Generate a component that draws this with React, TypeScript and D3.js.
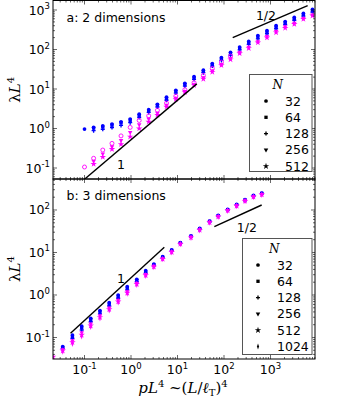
import { useEffect, useRef } from 'react';
import * as d3 from 'd3';

// panel a: 2 dimensions
const xA = [0.1, 0.157, 0.247, 0.39, 0.61, 0.96, 1.5, 2.4, 3.7, 5.8, 9.2, 14.4, 22.7, 36, 56, 88, 138, 217, 340, 535, 840, 1320, 2070, 3250, 5100, 8000];
const yA32 = [0.97, 1.07, 1.16, 1.3, 1.48, 1.73, 2.3, 3.0, 4.1, 6.2, 9.3, 13.9, 20.5, 30, 44, 62, 85, 115, 160, 225, 300, 400, 510, 650, 820, 1030];
const yA64 = [null, 1.02, 1.1, 1.22, 1.4, 1.62, 2.15, 2.85, 3.9, 5.8, 8.7, 13, 19, 28, 41, 57, 78, 105, 148, 205, 275, 370, 470, 600, 760, 950];
const yA128 = [null, 0.88, 0.96, 1.06, 1.2, 1.41, 1.9, 2.55, 3.5, 5.2, 7.9, 11.8, 17.5, 26, 38, 53, 72, 98, 135, 185, 250, 335, 430, 550, 700, 880];
const yAopen = [0.106, 0.176, 0.285, 0.42, 0.65, 1.07, 1.6, 2.1, 2.9, 4.4, 6.6, 9.6, 14.5, 22, 33, 48, 68, null, null, null, null, null, null, null, null, null];
const yA256 = [null, 0.15, 0.23, 0.35, 0.5, 0.8, 1.25, 1.75, 2.45, 3.9, 5.9, 8.8, 13, 19.5, 29, 42, 60, 85, 115, 160, 215, 290, 380, 470, 620, 760];
const yA512 = [null, 0.126, 0.19, 0.3, 0.4, 0.62, 1.0, 1.48, 2.2, 3.55, 5.5, 8.3, 12.5, 18, 27, 40, 56, 80, 108, 150, 200, 270, 350, 440, 590, 720];

// panel b: 3 dimensions
const xB = [0.021, 0.034, 0.055, 0.087, 0.136, 0.215, 0.34, 0.53, 0.83, 1.33, 2.07, 3.1, 4.8, 7.5, 11.5, 19.5, 30, 49, 75, 120, 187, 283, 430, 650];
const yB32 = [null, 0.061, 0.114, 0.186, 0.283, 0.43, 0.66, 1.0, 1.57, 2.34, 3.73, 5.35, 7.96, 11.5, 17, 24.5, 37, 55, 75, 103, 135, 175, 220, 250];
const yB64 = [null, 0.058, 0.105, 0.17, 0.26, 0.4, 0.61, 0.93, 1.45, 2.2, 3.5, 5.15, 7.7, 11.2, 16.7, 24, 36.2, 54, 73.6, 101.5, 132.5, 172, 216, 245];
const yB128 = [null, 0.055, 0.095, 0.15, 0.235, 0.36, 0.55, 0.84, 1.32, 2.05, 3.25, 4.95, 7.45, 10.9, 16.4, 23.5, 35.4, 53, 72.2, 100, 130, 169, 212, 240];
const yB256 = [null, 0.052, 0.085, 0.13, 0.21, 0.33, 0.5, 0.76, 1.2, 1.92, 3.05, 4.8, 7.2, 10.5, 16.1, 23, 34.6, 52, 70.8, 98.5, 127.5, 166, 208, 235];
const yB512 = [0.035, 0.049, 0.077, 0.115, 0.19, 0.3, 0.46, 0.7, 1.12, 1.8, 2.9, 4.6, 7.0, 10.2, 15.8, 22.5, 33.8, 51, 69.4, 97, 125, 163, 204, 230];
const yB1024 = [0.032, 0.046, 0.07, 0.105, 0.175, 0.28, 0.43, 0.66, 1.06, 1.72, 2.8, 4.5, 6.9, 10.0, 15.5, 22, 33, 50, 68, 95, 122, 160, 200, 225];

// guide lines (slope 1 and slope 1/2)
const guideA1 = { x: [0.1, 26], y: [0.052, 13.5] };
const guideAHalf = { x: [154, 6300], y: [200, 1290] };
const guideB1 = { x: [0.05, 5.2], y: [0.126, 13.3] };
const guideBHalf = { x: [62, 646], y: [40.5, 131] };

const legendA = ['32', '64', '128', '256', '512'];
const legendB = ['32', '64', '128', '256', '512', '1024'];

const BLUE = '#0000ff';
const MAGENTA = '#ff00ff';

const shapes: Record<string, any> = {
  circle: d3.symbolCircle,
  square: d3.symbolSquare,
  plus: d3.symbolCross,
  tri: d3.symbolTriangle,
  star: d3.symbolStar,
  diamond: d3.symbolDiamond,
};
const sizes: Record<string, number> = { circle: 11, square: 11, plus: 9, tri: 9, star: 13, diamond: 10, ring: 0 };

function drawMarker(g: any, shape: string, color: string, cx: number, cy: number) {
  if (shape === 'ring') {
    g.append('circle').attr('cx', cx).attr('cy', cy).attr('r', 2)
      .attr('fill', 'none').attr('stroke', color).attr('stroke-width', 0.9);
    return;
  }
  let tr = `translate(${cx},${cy})`;
  if (shape === 'tri') tr += ' rotate(180)';
  if (shape === 'diamond') tr += ' scale(0.6,1)';
  g.append('path')
    .attr('d', d3.symbol(shapes[shape], sizes[shape])())
    .attr('transform', tr)
    .attr('fill', color);
}

export default function App() {
  const ref = useRef<SVGSVGElement>(null);

  useEffect(() => {
    const width = 346;
    const height = 398;
    const svg = d3.select(ref.current);
    svg.selectAll('*').remove();
    svg.attr('width', width).attr('height', height).attr('viewBox', `0 0 ${width} ${height}`);
    svg.append('rect').attr('width', width).attr('height', height).attr('fill', '#fff');

    const left = 53;
    const right = 315;
    const x = d3.scaleLog().domain([0.021, 9060]).range([left, right]);
    const tickFont = 12.5;

    const panels = [
      {
        id: 'a', top: 0.5, bottom: 179, yDomain: [0.0527, 1740], title: 'a: 2 dimensions', xLabels: false,
        xs: xA,
        series: [
          { y: yA32, shape: 'circle', color: BLUE },
          { y: yA64, shape: 'square', color: BLUE },
          { y: yA128, shape: 'plus', color: BLUE },
          { y: yAopen, shape: 'ring', color: MAGENTA },
          { y: yA256, shape: 'tri', color: MAGENTA },
          { y: yA512, shape: 'star', color: MAGENTA },
        ],
        guides: [guideA1, guideAHalf],
        notes: [{ t: '1', x: 0.61, y: 0.12 }, { t: '1/2', x: 800, y: 740 }],
        legend: legendA, legendShapes: ['circle', 'square', 'plus', 'tri', 'star'],
        box: { x: 249.5, y: 74.5, w: 62.5, h: 97 }, markX: 266, textX: 285,
      },
      {
        id: 'b', top: 179, bottom: 359, yDomain: [0.0312, 536], title: 'b: 3 dimensions', xLabels: true,
        xs: xB,
        series: [
          { y: yB32, shape: 'circle', color: BLUE },
          { y: yB64, shape: 'square', color: BLUE },
          { y: yB128, shape: 'plus', color: BLUE },
          { y: yB256, shape: 'tri', color: MAGENTA },
          { y: yB512, shape: 'star', color: MAGENTA },
          { y: yB1024, shape: 'diamond', color: MAGENTA },
        ],
        guides: [guideB1, guideBHalf],
        notes: [{ t: '1', x: 0.61, y: 2.5 }, { t: '1/2', x: 310, y: 37.7 }],
        legend: legendB, legendShapes: ['circle', 'square', 'plus', 'tri', 'star', 'diamond'],
        box: { x: 242.5, y: 238.5, w: 69.5, h: 116 }, markX: 258, textX: 277,
      },
    ];

    const isMajor = (t: number) => Math.abs(Math.log10(t) - Math.round(Math.log10(t))) < 1e-6;

    panels.forEach((p) => {
      const y = d3.scaleLog().domain(p.yDomain).range([p.bottom, p.top]);
      const g = svg.append('g');

      svg.append('clipPath').attr('id', `clip-${p.id}`)
        .append('rect').attr('x', left).attr('y', p.top).attr('width', right - left).attr('height', p.bottom - p.top);
      const plot = g.append('g').attr('clip-path', `url(#clip-${p.id})`);

      // data points
      p.series.forEach((s) => {
        s.y.forEach((v, i) => {
          if (v == null) return;
          drawMarker(plot, s.shape, s.color, x(p.xs[i]), y(v));
        });
      });

      // guide lines
      p.guides.forEach((gd) => {
        plot.append('line')
          .attr('x1', x(gd.x[0])).attr('y1', y(gd.y[0]))
          .attr('x2', x(gd.x[1])).attr('y2', y(gd.y[1]))
          .attr('stroke', '#000').attr('stroke-width', 1.4);
      });

      p.notes.forEach((n) => {
        g.append('text').attr('x', x(n.x)).attr('y', y(n.y))
          .attr('text-anchor', 'middle').attr('dominant-baseline', 'central')
          .attr('font-family', 'DejaVu Sans').attr('font-size', 12.5).text(n.t);
      });

      // frame
      g.append('rect').attr('x', left).attr('y', p.top).attr('width', right - left).attr('height', p.bottom - p.top)
        .attr('fill', 'none').attr('stroke', '#000').attr('stroke-width', 1);

      // x ticks (top and bottom, inward)
      x.ticks().forEach((t) => {
        const len = isMajor(t) ? 4 : 2;
        const xp = x(t);
        g.append('line').attr('x1', xp).attr('x2', xp).attr('y1', p.bottom).attr('y2', p.bottom - len).attr('stroke', '#000').attr('stroke-width', 0.6);
        g.append('line').attr('x1', xp).attr('x2', xp).attr('y1', p.top).attr('y2', p.top + len).attr('stroke', '#000').attr('stroke-width', 0.6);
        if (p.xLabels && isMajor(t)) {
          const e = Math.round(Math.log10(t));
          const tx = g.append('text').attr('x', xp).attr('y', p.bottom + 15)
            .attr('text-anchor', 'middle').attr('font-family', 'DejaVu Sans').attr('font-size', tickFont);
          tx.append('tspan').text('10');
          tx.append('tspan').attr('dy', -5.5).attr('font-size', 8.5).text(String(e));
        }
      });

      // y ticks (left and right, inward)
      y.ticks().forEach((t) => {
        const len = isMajor(t) ? 4 : 2;
        const yp = y(t);
        g.append('line').attr('x1', left).attr('x2', left + len).attr('y1', yp).attr('y2', yp).attr('stroke', '#000').attr('stroke-width', 0.6);
        g.append('line').attr('x1', right).attr('x2', right - len).attr('y1', yp).attr('y2', yp).attr('stroke', '#000').attr('stroke-width', 0.6);
        if (isMajor(t)) {
          const e = Math.round(Math.log10(t));
          const tx = g.append('text').attr('x', left - 3).attr('y', yp + 4.5)
            .attr('text-anchor', 'end').attr('font-family', 'DejaVu Sans').attr('font-size', tickFont);
          tx.append('tspan').text('10');
          tx.append('tspan').attr('dy', -5.5).attr('font-size', 8.5).text(String(e));
        }
      });

      // panel title
      g.append('text').attr('x', 66.5).attr('y', p.top + 21)
        .attr('font-family', 'DejaVu Sans').attr('font-size', 12.5).text(p.title);

      // y label
      const cy = (p.top + p.bottom) / 2;
      const yl = g.append('text').attr('transform', `translate(20,${cy}) rotate(-90)`)
        .attr('text-anchor', 'middle').attr('font-family', 'DejaVu Serif').attr('font-size', 15);
      yl.append('tspan').text('λ');
      yl.append('tspan').attr('font-style', 'italic').text('L');
      yl.append('tspan').attr('dy', -6).attr('font-size', 10).text('4');

      // legend
      const lg = g.append('g');
      lg.append('rect').attr('x', p.box.x).attr('y', p.box.y).attr('width', p.box.w).attr('height', p.box.h)
        .attr('fill', '#fff').attr('stroke', '#555').attr('stroke-width', 1);
      lg.append('text').attr('x', (p.box.x + p.box.w / 2) - 3).attr('y', p.box.y + 10.5)
        .attr('text-anchor', 'middle').attr('dominant-baseline', 'central')
        .attr('font-family', 'DejaVu Serif').attr('font-style', 'italic').attr('font-size', 12).text('N');
      p.legend.forEach((lab, i) => {
        const ly = p.box.y + 26.5 + i * 16.3;
        drawMarker(lg, p.legendShapes[i], '#000', p.markX, ly);
        lg.append('text').attr('x', p.textX).attr('y', ly).attr('dominant-baseline', 'central')
          .attr('font-family', 'DejaVu Sans').attr('font-size', 12.5).text(lab);
      });
    });

    // x label
    const xl = svg.append('text').attr('x', 183).attr('y', 393)
      .attr('text-anchor', 'middle').attr('font-family', 'DejaVu Serif').attr('font-size', 15);
    xl.append('tspan').attr('font-style', 'italic').text('pL');
    xl.append('tspan').attr('dy', -6).attr('font-size', 10).text('4');
    xl.append('tspan').attr('dy', 6).text(' ~(');
    xl.append('tspan').attr('font-style', 'italic').text('L');
    xl.append('tspan').text('/');
    xl.append('tspan').attr('font-style', 'italic').text('ℓ');
    xl.append('tspan').attr('dy', 3).attr('font-size', 10).text('T');
    xl.append('tspan').attr('dy', -3).text(')');
    xl.append('tspan').attr('dy', -6).attr('font-size', 10).text('4');
  }, []);

  return <svg ref={ref} style={{ position: 'absolute', left: 0, top: 0 }}></svg>;
}
